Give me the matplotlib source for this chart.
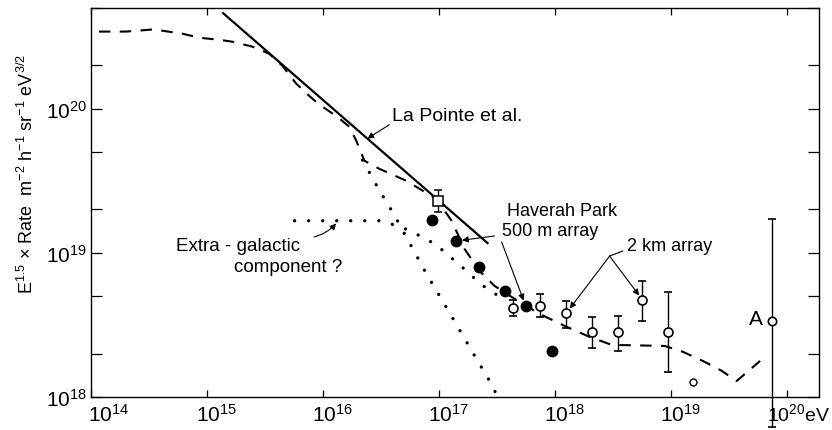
import numpy as np
import matplotlib
matplotlib.use('Agg')
import matplotlib.pyplot as plt
from matplotlib.transforms import ScaledTranslation

# fonte sem serifa para todo o desenho, inclusive mathtext
plt.rcParams['font.family'] = ['Liberation Sans', 'DejaVu Sans']
plt.rcParams['mathtext.fontset'] = 'custom'
plt.rcParams['mathtext.rm'] = 'Liberation Sans'
plt.rcParams['mathtext.it'] = 'Liberation Sans'

# ajuste total (curva tracejada)
e_ajuste = [1.17e14, 2.0e14, 3.3e14, 4.1e14, 6.1e14, 8.6e14, 1.27e15, 1.65e15, 2.45e15,
            3.44e15, 4.46e15, 5.9e15, 7.6e15, 9.3e15, 1.33e16, 1.69e16, 1.94e16, 2.28e16,
            3.07e16, 5.25e16, 9.5e16, 1.29e17, 1.66e17, 2.24e17, 3.02e17, 4.5e17, 7.4e17,
            1.22e18, 2.0e18, 3.1e18, 8.9e18, 1.27e19, 1.89e19, 2.75e19, 3.7e19, 5.9e19]
r_ajuste = [3.43e20, 3.43e20, 3.54e20, 3.48e20, 3.32e20, 3.11e20, 3.01e20, 2.92e20, 2.70e20,
            2.41e20, 1.99e20, 1.49e20, 1.23e20, 1.07e20, 8.8e19, 7.5e19, 6.0e19, 4.36e19,
            3.83e19, 3.16e19, 2.37e19, 1.67e19, 1.07e19, 7.5e18, 5.9e18, 4.8e18, 3.77e18,
            3.11e18, 2.61e18, 2.3e18, 2.26e18, 2.06e18, 1.78e18, 1.52e18, 1.29e18, 1.78e18]

# La Pointe et al.
e_lapointe = [1.38e15, 2.63e17]
r_lapointe = [4.6e20, 1.17e19]

# componente galactica (pontilhada, queda rapida)
e_galac = [2.2e16, 3.0e16, 4.1e16, 5.5e16, 7.5e16, 1.05e17, 1.48e17, 2.1e17, 2.9e17, 3.2e17]
r_galac = [4.4e19, 2.8e19, 1.85e19, 1.2e19, 7.6e18, 4.8e18, 3.0e18, 1.85e18, 1.2e18, 1.0e18]

# componente extra-galactica (pontilhada)
e_extra = [5.7e15, 3.2e16, 4.9e16, 5.7e16, 7.4e16, 9.5e16, 1.19e17, 1.48e17, 1.84e17,
           2.29e17, 2.84e17, 3.5e17]
r_extra = [1.67e19, 1.67e19, 1.49e19, 1.42e19, 1.27e19, 1.14e19, 9.7e18, 8.4e18, 7.15e18,
           6.1e18, 5.36e18, 4.9e18]

# ponto quadrado com barra de erro
e_quad = [9.9e16]
r_quad = [2.3e19]
r_quad_sup = [2.74e19]
r_quad_inf = [1.93e19]

# Haverah Park, arranjo de 500 m (circulos cheios)
e_500m = [8.8e16, 1.42e17, 2.2e17, 3.69e17, 5.6e17, 9.4e17]
r_500m = [1.69e19, 1.21e19, 8.0e18, 5.4e18, 4.3e18, 2.09e18]

# arranjo de 2 km (circulos abertos com barras de erro)
e_2km = [4.4e17, 7.5e17, 1.26e18, 2.08e18, 3.48e18, 5.7e18, 9.4e18]
r_2km = [4.15e18, 4.29e18, 3.83e18, 2.82e18, 2.82e18, 4.72e18, 2.82e18]
r_2km_sup = [4.72e18, 5.19e18, 4.64e18, 3.59e18, 3.65e18, 6.39e18, 5.36e18]
r_2km_inf = [3.65e18, 3.59e18, 3.01e18, 2.19e18, 2.09e18, 3.37e18, 1.49e18]

# ponto isolado sem barra
e_solto = [1.55e19]
r_solto = [1.27e18]

# evento A
e_A = [7.45e19]
r_A = [3.37e18]
r_A_sup = [1.72e19]
r_A_inf = [6.2e17]

ticks_x = [1e14, 1e15, 1e16, 1e17, 1e18, 1e19, 1e20]
rotulos_x = ['$10^{14}$', '$10^{15}$', '$10^{16}$', '$10^{17}$', '$10^{18}$', '$10^{19}$', '$10^{20}$eV']
ticks_y = [1e18, 1e19, 1e20]
rotulos_y = ['$10^{18}$', '$10^{19}$', '$10^{20}$']


def barras(r, sup, inf):
    r = np.array(r)
    return [r - np.array(inf), np.array(sup) - r]


def no_log(x, xs, ys):
    # interpola em escala log-log
    return 10 ** np.interp(np.log10(x), np.log10(xs), np.log10(ys))


fig = plt.figure(figsize=(8.32, 4.31), dpi=100)
ax = fig.add_axes([91 / 832, 1 - 398 / 431, 728 / 832, 389 / 431])
ax.set_xscale('log')
ax.set_yscale('log')
ax.set_xlim(1e14, 1.9e20)
ax.set_ylim(1e18, 5.0e20)

ax.plot(e_ajuste, r_ajuste, color='black', lw=1.5, linestyle=(0, (5.5, 4.5)))
ax.plot(e_lapointe, r_lapointe, color='black', lw=1.6)
ax.plot(e_galac, r_galac, color='black', lw=2.4, linestyle=(0, (0.01, 4.2)), dash_capstyle='round')
ax.plot(e_extra, r_extra, color='black', lw=2.4, linestyle=(0, (0.01, 4.2)), dash_capstyle='round')

ax.errorbar(e_quad, r_quad, yerr=barras(r_quad, r_quad_sup, r_quad_inf), fmt='s', ms=7,
            mfc='white', mec='black', mew=1.1, ecolor='black', elinewidth=1.0, capsize=3, zorder=5)
ax.plot(e_500m, r_500m, 'o', ms=7.5, color='black', zorder=5)
ax.errorbar(e_2km, r_2km, yerr=barras(r_2km, r_2km_sup, r_2km_inf), fmt='o', ms=6.5,
            mfc='white', mec='black', mew=1.2, ecolor='black', elinewidth=1.0, capsize=3, zorder=5)
ax.plot(e_solto, r_solto, 'o', ms=5, mfc='white', mec='black', mew=1.0)
ax.errorbar(e_A, r_A, yerr=barras(r_A, r_A_sup, r_A_inf), fmt='o', ms=6, mfc='white', mec='black',
            mew=1.2, ecolor='black', elinewidth=1.0, capsize=3, clip_on=False, zorder=5)

# textos e setas
seta = dict(arrowstyle='-|>', color='black', lw=0.8, mutation_scale=9, shrinkA=0, shrinkB=0)
ax.text(3.97e16, 9.0e19, 'La Pointe et al.', fontsize=14, ha='left', va='center')
ax.annotate('', xy=(2.42e16, no_log(2.42e16, e_lapointe, r_lapointe)), xytext=(3.74e16, 7.75e19),
            arrowprops=seta)

ax.text(5.4e14, 1.12e19, 'Extra - galactic', fontsize=13.5, ha='left', va='center')
ax.text(1.72e15, 8.0e18, 'component ?', fontsize=13.5, ha='left', va='center')
ax.annotate('', xy=(1.3e16, 1.6e19), xytext=(8.4e15, 1.29e19),
            arrowprops=dict(seta, connectionstyle='arc3,rad=0.15'))

ax.text(3.84e17, 1.96e19, 'Haverah Park', fontsize=13, ha='left', va='center')
ax.text(3.48e17, 1.42e19, '500 m array', fontsize=13, ha='left', va='center')
ax.annotate('', xy=(e_500m[1], r_500m[1]), xytext=(3.02e17, 1.31e19),
            arrowprops=dict(seta, shrinkB=4))
ax.annotate('', xy=(e_500m[4], r_500m[4]), xytext=(3.48e17, 1.19e19),
            arrowprops=dict(seta, shrinkB=4))

ax.text(4.17e18, 1.12e19, '2 km array', fontsize=13, ha='left', va='center')
ax.plot([3.85e18, 2.97e18], [1.03e19, 9.5e18], color='black', lw=0.8)
ax.annotate('', xy=(e_2km[2], r_2km[2]), xytext=(2.97e18, 9.5e18), arrowprops=dict(seta, shrinkB=4))
ax.annotate('', xy=(e_2km[5], r_2km[5]), xytext=(2.97e18, 9.5e18), arrowprops=dict(seta, shrinkB=4))

ax.text(6.2e19, 3.48e18, 'A', fontsize=15, ha='right', va='center')

# eixos
ax.set_xticks(ticks_x)
ax.set_xticklabels(rotulos_x, fontsize=15)
ax.set_yticks(ticks_y)
ax.set_yticklabels(rotulos_y, fontsize=15)
ax.xaxis.set_minor_locator(matplotlib.ticker.NullLocator())
ax.yaxis.set_minor_locator(matplotlib.ticker.LogLocator(base=10, subs=[2.0, 5.0]))
ax.yaxis.set_minor_formatter(matplotlib.ticker.NullFormatter())
ax.tick_params(which='both', direction='in', top=True, right=True, width=0.9)
ax.tick_params(axis='x', which='major', length=5, pad=4)
ax.tick_params(axis='y', which='major', length=8, pad=3)
ax.tick_params(axis='y', which='minor', length=8)
for lado in ax.spines.values():
    lado.set_linewidth(1.0)

# o "10" fica centrado no tick e o expoente sobra para a direita
desvios = [-3, -11, -11, -11, -11, -11, -20]
for rot, desloc in zip(ax.get_xticklabels(), desvios):
    rot.set_horizontalalignment('left')
    rot.set_transform(rot.get_transform() + ScaledTranslation(desloc / 100, 0, fig.dpi_scale_trans))
ax.get_xticklabels()[-1].set_fontsize(14)

fig.text(27 / 832, 1 - 174 / 431,
         r'E$^{1.5}$ $\times$ Rate  m$^{-2}$ h$^{-1}$ sr$^{-1}$ eV$^{3/2}$',
         rotation=90, ha='center', va='center', fontsize=13)

plt.savefig('out.png', dpi=100)
